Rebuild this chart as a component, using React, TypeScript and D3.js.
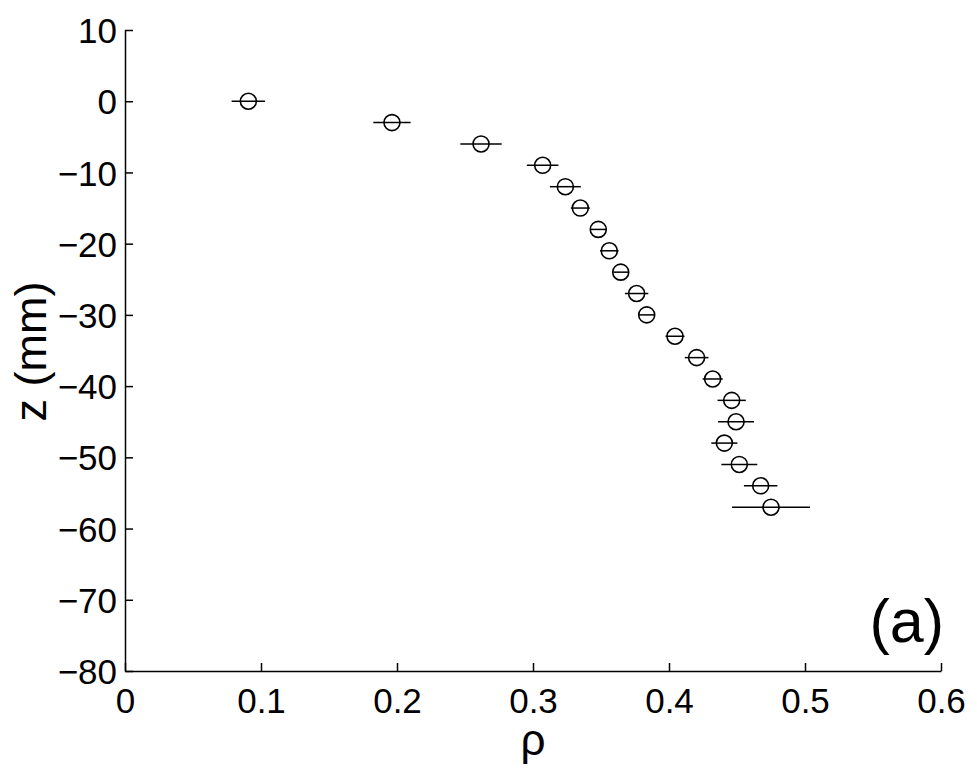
import React, { useEffect, useRef } from 'react';
import * as d3 from 'd3';

// depth below the surface (mm)
const zValues = [0, -3, -6, -9, -12, -15, -18, -21, -24, -27, -30, -33, -36, -39, -42, -45, -48, -51, -54, -57];
// measured rho at each depth
const rhoValues = [0.0907, 0.1963, 0.2618, 0.3071, 0.3238, 0.3348, 0.3480, 0.3561, 0.3645, 0.3762,
    0.3836, 0.4044, 0.4203, 0.4321, 0.4461, 0.4493, 0.4407, 0.4517, 0.4674, 0.4750];
// horizontal error (half width)
const rhoErrors = [0.0123, 0.0137, 0.0152, 0.0116, 0.0114, 0.0070, 0.0060, 0.0068, 0.0055, 0.0086,
    0.0060, 0.0070, 0.0087, 0.0074, 0.0104, 0.0132, 0.0096, 0.0132, 0.0123, 0.0287];

const xTicks = [0, 0.1, 0.2, 0.3, 0.4, 0.5, 0.6];
const yTicks = [10, 0, -10, -20, -30, -40, -50, -60, -70, -80];

const FONT = '"Liberation Sans", Arial, Helvetica, sans-serif';

const App = () => {
    const ref = useRef<SVGSVGElement | null>(null);

    useEffect(() => {
        const svg = d3.select(ref.current);
        svg.selectAll('*').remove();

        const width = 977, height = 771;
        const margin = { top: 30, right: 36, bottom: 100, left: 125 };

        const x = d3.scaleLinear().domain([0, 0.6]).range([margin.left, width - margin.right]);
        const y = d3.scaleLinear().domain([-80, 10]).range([height - margin.bottom, margin.top]);

        const data = zValues.map((z, i) => ({ z, rho: rhoValues[i], err: rhoErrors[i] }));

        // axes (ticks pointing inward, like matlab)
        const xAxis = svg.append('g')
            .attr('transform', `translate(0,${y(-80)})`)
            .call(d3.axisBottom(x).tickValues(xTicks).tickSize(-8).tickSizeOuter(0)
                .tickFormat(d => d === 0 ? '0' : d3.format('.1f')(d as number)));
        xAxis.attr('font-size', 35).attr('font-family', FONT);
        xAxis.select('.domain').attr('stroke-width', 1.5);
        xAxis.selectAll('.tick line').attr('stroke-width', 1.5);
        xAxis.selectAll('.tick text')
            .attr('y', 42)
            .attr('dy', 0)
            .attr('fill', '#000');

        const yAxis = svg.append('g')
            .attr('transform', `translate(${x(0)},0)`)
            .call(d3.axisLeft(y).tickValues(yTicks).tickSize(-8).tickSizeOuter(0)
                .tickFormat(d3.format('d')));
        yAxis.attr('font-size', 35).attr('font-family', FONT);
        yAxis.select('.domain').attr('stroke-width', 1.5);
        yAxis.selectAll('.tick line').attr('stroke-width', 1.5);
        yAxis.selectAll('.tick text')
            .attr('x', -8)
            .attr('dy', '0.36em')
            .attr('fill', '#000');

        // error bars
        svg.append('g')
            .selectAll('line')
            .data(data)
            .enter()
            .append('line')
            .attr('x1', d => x(d.rho - d.err))
            .attr('x2', d => x(d.rho + d.err))
            .attr('y1', d => y(d.z))
            .attr('y2', d => y(d.z))
            .attr('stroke', '#000')
            .attr('stroke-width', 1.5);

        // markers
        svg.append('g')
            .selectAll('circle')
            .data(data)
            .enter()
            .append('circle')
            .attr('cx', d => x(d.rho))
            .attr('cy', d => y(d.z))
            .attr('r', 8)
            .attr('fill', 'none')
            .attr('stroke', '#000')
            .attr('stroke-width', 1.6);

        // axis labels
        svg.append('text')
            .attr('x', x(0.3))
            .attr('y', 755)
            .attr('text-anchor', 'middle')
            .style('font-family', FONT)
            .style('font-size', '44px')
            .text('ρ');

        svg.append('text')
            .attr('transform', `translate(46,${(y(-80) + y(10)) / 2 + 1}) rotate(-90)`)
            .attr('text-anchor', 'middle')
            .style('font-family', FONT)
            .style('font-size', '45px')
            .text('z (mm)');

        // panel letter
        svg.append('text')
            .attr('x', 944)
            .attr('y', 642)
            .attr('text-anchor', 'end')
            .style('font-family', FONT)
            .style('font-size', '61px')
            .text('(a)');
    }, []);

    return (
        <svg ref={ref} width={977} height={771}
            style={{ position: 'absolute', left: 0, top: 0, background: '#fff' }} />
    );
};

export default App;
